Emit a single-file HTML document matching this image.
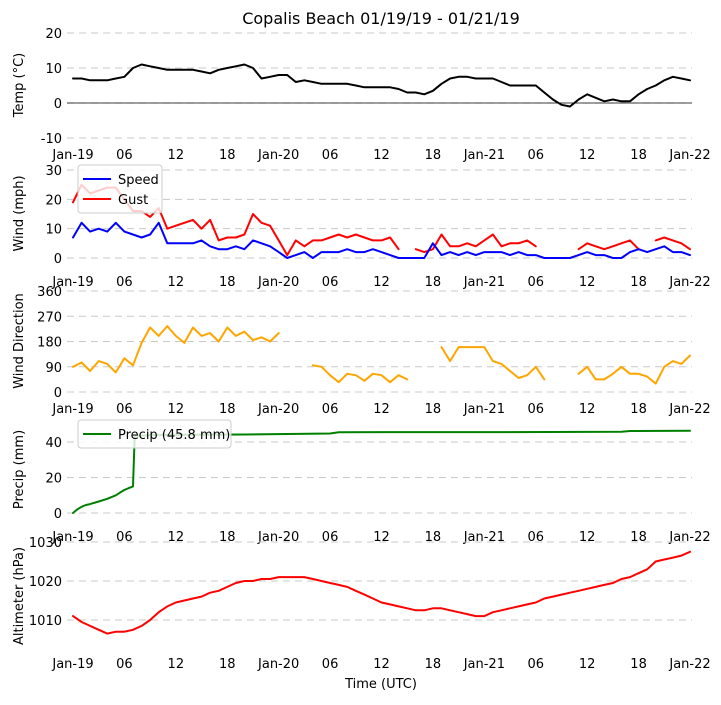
<!DOCTYPE html>
<html><head><meta charset="utf-8"><style>
body{margin:0;background:#fff}
svg{font-family:"DejaVu Sans","Liberation Sans",sans-serif}
</style></head><body>
<svg id="c" width="721" height="700" xmlns="http://www.w3.org/2000/svg">
<rect width="721" height="700" fill="#fff"/>
<text x="381" y="24" font-size="16" text-anchor="middle">Copalis Beach 01/19/19 - 01/21/19</text>
<text x="381" y="688" font-size="13" text-anchor="middle">Time (UTC)</text>
</svg>
<script>
const xTickLabels=["Jan-19","06","12","18","Jan-20","06","12","18","Jan-21","06","12","18","Jan-22"];
const tempValues=[7,7,6.5,6.5,6.5,7,7.5,10,11,10.5,10,9.5,9.5,9.5,9.5,9,8.5,9.5,10,10.5,11,10,7,7.5,8,8,6,6.5,6,5.5,5.5,5.5,5.5,5,4.5,4.5,4.5,4.5,4,3,3,2.5,3.5,5.5,7,7.5,7.5,7,7,7,6,5,5,5,5,3,1,-0.5,-1,1,2.5,1.5,0.5,1,0.5,0.5,2.5,4,5,6.5,7.5,7,6.5];
const speedValues=[7,12,9,10,9,12,9,8,7,8,12,5,5,5,5,6,4,3,3,4,3,6,5,4,2,0,1,2,0,2,2,2,3,2,2,3,2,1,0,0,0,0,5,1,2,1,2,1,2,2,2,1,2,1,1,0,0,0,0,1,2,1,1,0,0,2,3,2,3,4,2,2,1];
const gustValues=[19,25,22,23,24,24,20,16,16,14,17,10,11,12,13,10,13,6,7,7,8,15,12,11,6,1,6,4,6,6,7,8,7,8,7,6,6,7,3,null,3,2,3,8,4,4,5,4,6,8,4,5,5,6,4,null,null,null,null,3,5,4,3,4,5,6,3,null,6,7,6,5,3];
const dirValues=[90,105,75,110,100,70,120,95,175,230,200,235,200,175,230,200,210,180,230,200,215,185,195,180,210,null,180,null,95,90,60,35,65,60,40,65,60,35,60,45,null,null,null,160,110,160,160,160,160,110,100,75,50,60,90,45,null,null,null,65,90,45,45,65,90,65,65,55,30,90,110,100,130];
const precipHours=[0,0.5,1,1.5,2,3,4,5,6,7,7.2,10,20,25,30,31,40,50,60,64,65,72];
const precipValues=[0,2,3.5,4.5,5,6.5,8,10,13,15,43.5,44,44.2,44.5,44.8,45.5,45.6,45.6,45.7,45.8,46.2,46.3];
const altValues=[1011,1009.5,1008.5,1007.5,1006.5,1007,1007,1007.5,1008.5,1010,1012,1013.5,1014.5,1015,1015.5,1016,1017,1017.5,1018.5,1019.5,1020,1020,1020.5,1020.5,1021,1021,1021,1021,1020.5,1020,1019.5,1019,1018.5,1017.5,1016.5,1015.5,1014.5,1014,1013.5,1013,1012.5,1012.5,1013,1013,1012.5,1012,1011.5,1011,1011,1012,1012.5,1013,1013.5,1014,1014.5,1015.5,1016,1016.5,1017,1017.5,1018,1018.5,1019,1019.5,1020.5,1021,1022,1023,1025,1025.5,1026,1026.5,1027.5];

const svg=document.getElementById('c');const NS='http://www.w3.org/2000/svg';
function mk(t,a,p){const e=document.createElementNS(NS,t);for(const k in a)e.setAttribute(k,a[k]);(p||svg).appendChild(e);return e;}
const X0=73,X1=690;
function xs(h){return X0+h*(X1-X0)/72;}
const panels=[
 {name:'temp',title:'Temp (°C)',y0:138,y1:33,v0:-10,v1:20,ticks:[-10,0,10,20],xl:154,top:30,bot:140},
 {name:'wind',title:'Wind (mph)',y0:258,y1:170,v0:0,v1:30,ticks:[0,10,20,30],xl:281,top:165,bot:262},
 {name:'direction',title:'Wind Direction',y0:392,y1:291,v0:0,v1:360,ticks:[0,90,180,270,360],xl:408,top:288,bot:394},
 {name:'precip',title:'Precip (mm)',y0:513,y1:442,v0:0,v1:40,ticks:[0,20,40],xl:536,top:423,bot:516},
 {name:'altimeter',title:'Altimeter (hPa)',y0:620,y1:581,v0:1010,v1:1020,ticks:[1010,1020,1030],xl:663,top:540,bot:652}
];
panels.forEach(p=>{
 p.ys=v=>p.y0+(v-p.v0)*(p.y1-p.y0)/(p.v1-p.v0);
 const g=mk('g',{});
 
 
 p.ticks.forEach(t=>{
  const y=p.ys(t);
  const l=mk('line',{x1:X0-6,x2:X1+2,y1:y,y2:y,stroke:'#c8c8c8','stroke-dasharray':'7,5','stroke-width':1},g);
  
  
  const tx=mk('text',{x:62,y:y+5,'font-size':13,'text-anchor':'end'},g);
  tx.textContent=t;
  
  
 });
 const cy=(p.top+p.bot)/2;
 const tt=mk('text',{x:23,y:cy,'font-size':13,'text-anchor':'middle',transform:'rotate(-90 23 '+cy+')'},g);
 tt.textContent=p.title;
 
 
 xTickLabels.forEach((s,i)=>{
  const t=mk('text',{x:xs(i*6),y:p.xl+5,'font-size':13,'text-anchor':'middle'},g);
  t.textContent=s;
  
  
 });
});
function series(p,hours,vals,color,name){
 let d='',pen=false;
 vals.forEach((v,i)=>{
  if(v===null){pen=false;return;}
  const x=xs(hours?hours[i]:i),y=p.ys(v);
  d+=(pen?'L':'M')+x.toFixed(1)+' '+y.toFixed(1);pen=true;
 });
 const e=mk('path',{d:d,fill:'none',stroke:color,'stroke-width':2,'stroke-linejoin':'round','stroke-linecap':'round'});
 
 
}
const zl=mk('line',{x1:X0-6,x2:X1+2,y1:panels[0].ys(0),y2:panels[0].ys(0),stroke:'#000','stroke-width':0.8});


series(panels[0],null,tempValues,'#000','temp-line');
series(panels[1],null,gustValues,'#ff0000','gust-line');
series(panels[1],null,speedValues,'#0000ff','speed-line');
series(panels[2],null,dirValues,'#ffa500','direction-line');
series(panels[3],precipHours,precipValues,'#008000','precip-line');
series(panels[4],null,altValues,'#ff0000','altimeter-line');
function legend(x,y,w,entries,name){
 const g=mk('g',{});
 
 
 mk('rect',{x:x,y:y,width:w,height:8+entries.length*20,rx:3,fill:'rgba(255,255,255,0.8)',stroke:'#ccc'},g);
 entries.forEach((en,i)=>{
  const yy=y+14+i*20;
  mk('line',{x1:x+5,x2:x+33,y1:yy,y2:yy,stroke:en[1],'stroke-width':2},g);
  const t=mk('text',{x:x+40,y:yy+5,'font-size':13},g);
  t.textContent=en[0];
  
  
 });
}
legend(78,165,84,[['Speed','#0000ff'],['Gust','#ff0000']],'wind-legend');
legend(78,420,153,[['Precip (45.8 mm)','#008000']],'precip-legend');
</script>
</body></html>
